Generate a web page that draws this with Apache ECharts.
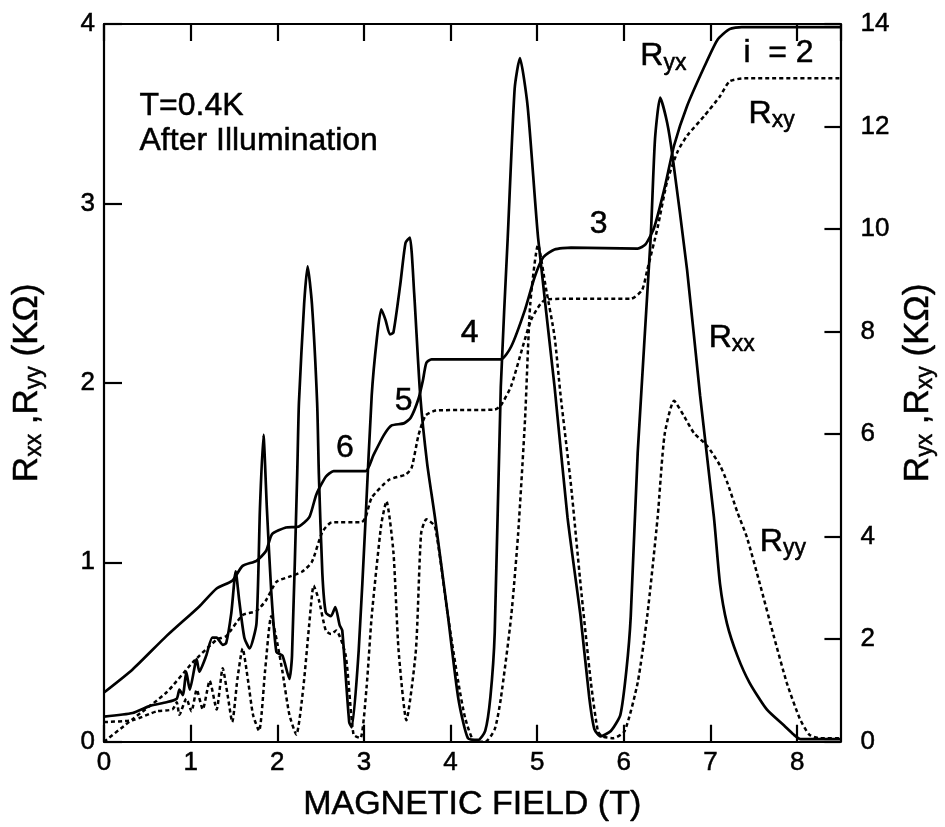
<!DOCTYPE html>
<html>
<head>
<meta charset="utf-8">
<script src="https://cdn.jsdelivr.net/npm/echarts@6/dist/echarts.min.js"></script>
<style>
html,body{margin:0;padding:0;background:#fff;}
#c{width:945px;height:827px;}
</style>
</head>
<body>
<div id="c"></div>
<script>
// ---- data (field in T, resistance in kOhm) ----
const xTicks = [0,1,2,3,4,5,6,7,8];
const leftTicks = [0,1,2,3,4];
const rightTicks = [0,2,4,6,8,10,12,14];

// R_xx (solid, left axis)
const rxx = [[0,0.14],[0.33,0.16],[0.53,0.20],[0.72,0.22],[0.84,0.24],[0.87,0.29],[0.91,0.26],[0.95,0.39],[0.99,0.29],[1.07,0.46],[1.10,0.39],[1.18,0.48],[1.25,0.58],[1.30,0.58],[1.37,0.54],[1.41,0.55],[1.47,0.72],[1.52,0.95],[1.56,0.79],[1.62,0.58],[1.68,0.52],[1.76,0.66],[1.80,1.30],[1.84,1.71],[1.88,1.30],[1.93,0.84],[1.99,0.50],[2.06,0.48],[2.14,0.35],[2.17,0.48],[2.23,1.49],[2.25,1.89],[2.31,2.44],[2.35,2.65],[2.40,2.44],[2.46,1.89],[2.48,1.49],[2.52,0.94],[2.56,0.72],[2.62,0.70],[2.67,0.75],[2.72,0.65],[2.75,0.62],[2.83,0.11],[2.86,0.08],[2.94,0.51],[3.02,1.25],[3.09,1.93],[3.15,2.25],[3.20,2.41],[3.25,2.35],[3.30,2.27],[3.34,2.28],[3.42,2.55],[3.48,2.78],[3.53,2.81],[3.58,2.50],[3.65,1.93],[3.73,1.55],[3.82,1.25],[3.97,0.70],[4.09,0.24],[4.20,0.02],[4.32,0.01],[4.40,0.06],[4.46,0.25],[4.51,0.61],[4.58,1.98],[4.66,2.81],[4.74,3.64],[4.80,3.81],[4.89,3.54],[5.01,2.81],[5.20,1.98],[5.35,1.25],[5.50,0.70],[5.60,0.25],[5.66,0.07],[5.73,0.03],[5.85,0.06],[5.96,0.15],[6.03,0.40],[6.08,0.70],[6.16,1.61],[6.31,2.81],[6.36,3.36],[6.42,3.59],[6.50,3.45],[6.56,3.27],[6.73,2.63],[6.88,1.93],[7.04,1.25],[7.11,0.88],[7.19,0.66],[7.31,0.48],[7.45,0.33],[7.65,0.18],[7.85,0.09],[7.96,0.04],[8.04,0.015],[8.5,0.015]];

// R_yy (dotted, left axis)
const ryy = [[0,0.11],[0.33,0.12],[0.61,0.17],[0.79,0.18],[0.84,0.22],[0.87,0.15],[0.95,0.24],[1.01,0.17],[1.07,0.29],[1.14,0.18],[1.22,0.34],[1.30,0.18],[1.37,0.41],[1.43,0.25],[1.48,0.11],[1.54,0.35],[1.60,0.52],[1.66,0.35],[1.72,0.15],[1.79,0.06],[1.86,0.40],[1.93,0.70],[2.00,0.55],[2.06,0.39],[2.14,0.15],[2.22,0.04],[2.30,0.30],[2.37,0.66],[2.42,0.87],[2.48,0.79],[2.56,0.62],[2.62,0.60],[2.68,0.62],[2.79,0.48],[2.88,0.04],[2.96,0.02],[3.03,0.30],[3.09,0.70],[3.20,1.21],[3.26,1.34],[3.34,1.06],[3.40,0.51],[3.49,0.12],[3.60,0.51],[3.66,1.16],[3.72,1.24],[3.82,1.20],[3.97,0.70],[4.09,0.33],[4.17,0.13],[4.28,0.00],[4.40,0.00],[4.51,0.07],[4.58,0.24],[4.70,0.70],[4.78,1.16],[4.86,1.80],[4.92,2.44],[5.01,2.77],[5.10,2.53],[5.20,2.26],[5.27,1.93],[5.39,1.43],[5.50,0.88],[5.62,0.33],[5.70,0.06],[5.75,0.03],[5.88,0.02],[6.01,0.06],[6.16,0.33],[6.27,0.70],[6.39,1.25],[6.47,1.71],[6.58,1.90],[6.70,1.81],[6.81,1.72],[6.96,1.65],[7.11,1.54],[7.19,1.45],[7.31,1.28],[7.42,1.14],[7.57,0.88],[7.73,0.59],[7.88,0.33],[8.03,0.13],[8.14,0.04],[8.26,0.02],[8.5,0.02]];

// R_yx (solid, right axis)
const ryx = [[0,0.96],[0.33,1.41],[0.72,2.06],[1.10,2.64],[1.30,2.99],[1.48,3.14],[1.60,3.43],[1.76,3.53],[1.87,3.72],[1.94,4.05],[2.10,4.18],[2.25,4.20],[2.37,4.38],[2.45,4.82],[2.56,5.17],[2.65,5.28],[3.02,5.28],[3.11,5.59],[3.23,5.98],[3.32,6.17],[3.46,6.21],[3.54,6.32],[3.63,6.69],[3.68,7.04],[3.72,7.39],[3.78,7.46],[4.58,7.46],[4.70,7.71],[4.86,8.43],[4.97,9.06],[5.07,9.45],[5.20,9.60],[5.39,9.64],[6.16,9.62],[6.25,9.70],[6.35,10.03],[6.47,10.80],[6.58,11.63],[6.73,12.40],[6.93,13.17],[7.08,13.69],[7.22,13.90],[7.36,13.94],[8.5,13.94]];

// R_xy (dotted, right axis)
const rxy = [[0,0],[0.33,0.44],[0.72,0.96],[1.02,1.54],[1.30,1.99],[1.41,2.06],[1.60,2.47],[1.76,2.55],[1.87,2.76],[1.99,3.12],[2.14,3.22],[2.29,3.32],[2.40,3.51],[2.52,4.09],[2.63,4.28],[2.97,4.28],[3.02,4.38],[3.09,4.76],[3.29,5.11],[3.48,5.21],[3.55,5.34],[3.63,5.98],[3.71,6.36],[3.83,6.46],[4.51,6.48],[4.58,6.56],[4.70,6.94],[4.93,8.23],[5.09,8.62],[5.32,8.64],[6.08,8.64],[6.21,8.81],[6.27,9.20],[6.39,10.03],[6.50,10.93],[6.62,11.51],[6.73,11.82],[6.93,12.21],[7.11,12.59],[7.22,12.88],[7.39,12.94],[8.5,12.94]];

// annotations: text, field (T), left-axis value, alignment
const notes = [
  ['T=0.4K', 0.41, 3.54, 'left'],
  ['After Illumination', 0.41, 3.345, 'left'],
  ['R{s|yx}', 6.19, 3.82, 'left'],
  ['i  = 2', 7.38, 3.84, 'left'],
  ['R{s|xy}', 7.44, 3.50, 'left'],
  ['R{s|xx}', 6.98, 2.25, 'left'],
  ['R{s|yy}', 7.57, 1.115, 'left'],
  ['3', 5.71, 2.885, 'center'],
  ['4', 4.22, 2.275, 'center'],
  ['5', 3.46, 1.90, 'center'],
  ['6', 2.78, 1.635, 'center']
];

const FONT = '"Liberation Sans", Arial, Helvetica, sans-serif';
const INK = {color: '#000', opacity: 1, textBorderColor: '#000', textBorderWidth: 0.5};
const richSub = {
  s: Object.assign({fontSize: 23, fontFamily: FONT, padding: [14, 0, 0, 0]}, INK)
};

const chart = echarts.init(document.getElementById('c'), null, {renderer: 'canvas'});

const axisCommon = {
  axisLine: {show: true, onZero: false, lineStyle: {color: '#000', width: 2.2}},
  splitLine: {show: false}
};
const tickLabel = Object.assign({fontSize: 26, fontFamily: FONT}, INK);

const option = {
  backgroundColor: '#fff',
  animation: false,
  grid: {left: 104, right: 101, top: 24, bottom: 77, containLabel: false},
  xAxis: [
    Object.assign({}, axisCommon, {
      type: 'value', min: 0, max: 8.5, interval: 1, position: 'bottom',
      axisTick: {show: true, inside: true, length: 17, lineStyle: {color: '#000', width: 2.2}},
      axisLabel: Object.assign({margin: 8, showMaxLabel: false,
        formatter: v => (xTicks.indexOf(v) >= 0 ? String(v) : '')}, tickLabel),
      name: 'MAGNETIC FIELD (T)', nameLocation: 'middle', nameGap: 46,
      nameTextStyle: Object.assign({fontSize: 34, fontFamily: FONT}, INK)
    }),
    Object.assign({}, axisCommon, {
      type: 'value', min: 0, max: 8.5, interval: 1, position: 'top',
      axisTick: {show: true, inside: true, length: 17, lineStyle: {color: '#000', width: 2.2}},
      axisLabel: {show: false}
    })
  ],
  yAxis: [
    Object.assign({}, axisCommon, {
      type: 'value', min: 0, max: 4, interval: 1, position: 'left',
      axisTick: {show: true, inside: true, length: 18, lineStyle: {color: '#000', width: 2.2}},
      axisLabel: Object.assign({margin: 9,
        formatter: v => (leftTicks.indexOf(v) >= 0 ? String(v) : '')}, tickLabel),
      name: 'R{s|xx} ,R{s|yy} (KΩ)', nameLocation: 'middle', nameRotate: 90, nameGap: 58,
      nameTextStyle: Object.assign({fontSize: 35, fontFamily: FONT, rich: richSub}, INK)
    }),
    Object.assign({}, axisCommon, {
      type: 'value', min: 0, max: 14, interval: 2, position: 'right',
      axisTick: {show: true, inside: true, length: 16, lineStyle: {color: '#000', width: 2.2}},
      axisLabel: Object.assign({margin: 20,
        formatter: v => (rightTicks.indexOf(v) >= 0 ? String(v) : '')}, tickLabel),
      name: 'R{s|yx} ,R{s|xy} (KΩ)', nameLocation: 'middle', nameRotate: 90, nameGap: 54,
      nameTextStyle: Object.assign({fontSize: 35, fontFamily: FONT, rich: richSub}, INK)
    })
  ],
  series: [
    {name: 'Rxx', type: 'line', xAxisIndex: 0, yAxisIndex: 0, data: rxx, showSymbol: false, smooth: 0.2,
      lineStyle: {color: '#000', width: 2.7, type: 'solid'}, silent: true},
    {name: 'Ryy', type: 'line', xAxisIndex: 0, yAxisIndex: 0, data: ryy, showSymbol: false, smooth: 0.2,
      lineStyle: {color: '#000', width: 2.5, type: [4, 3]}, silent: true},
    {name: 'Ryx', type: 'line', xAxisIndex: 0, yAxisIndex: 1, data: ryx, showSymbol: false, smooth: 0.2,
      lineStyle: {color: '#000', width: 2.7, type: 'solid'}, silent: true},
    {name: 'Rxy', type: 'line', xAxisIndex: 0, yAxisIndex: 1, data: rxy, showSymbol: false, smooth: 0.2,
      lineStyle: {color: '#000', width: 2.5, type: [4, 3]}, silent: true},
    {name: 'notes', type: 'scatter', xAxisIndex: 0, yAxisIndex: 0, symbolSize: 0, silent: true,
      itemStyle: {opacity: 1, color: '#000'},
      data: notes.map(n => ({
        value: [n[1], n[2]],
        itemStyle: {opacity: 1},
        label: Object.assign({show: true, position: 'inside', formatter: n[0], align: n[3], verticalAlign: 'middle',
          fontSize: 32, fontFamily: FONT, rich: richSub}, INK)
      }))}
  ]
};
chart.setOption(option);
</script>
</body>
</html>
